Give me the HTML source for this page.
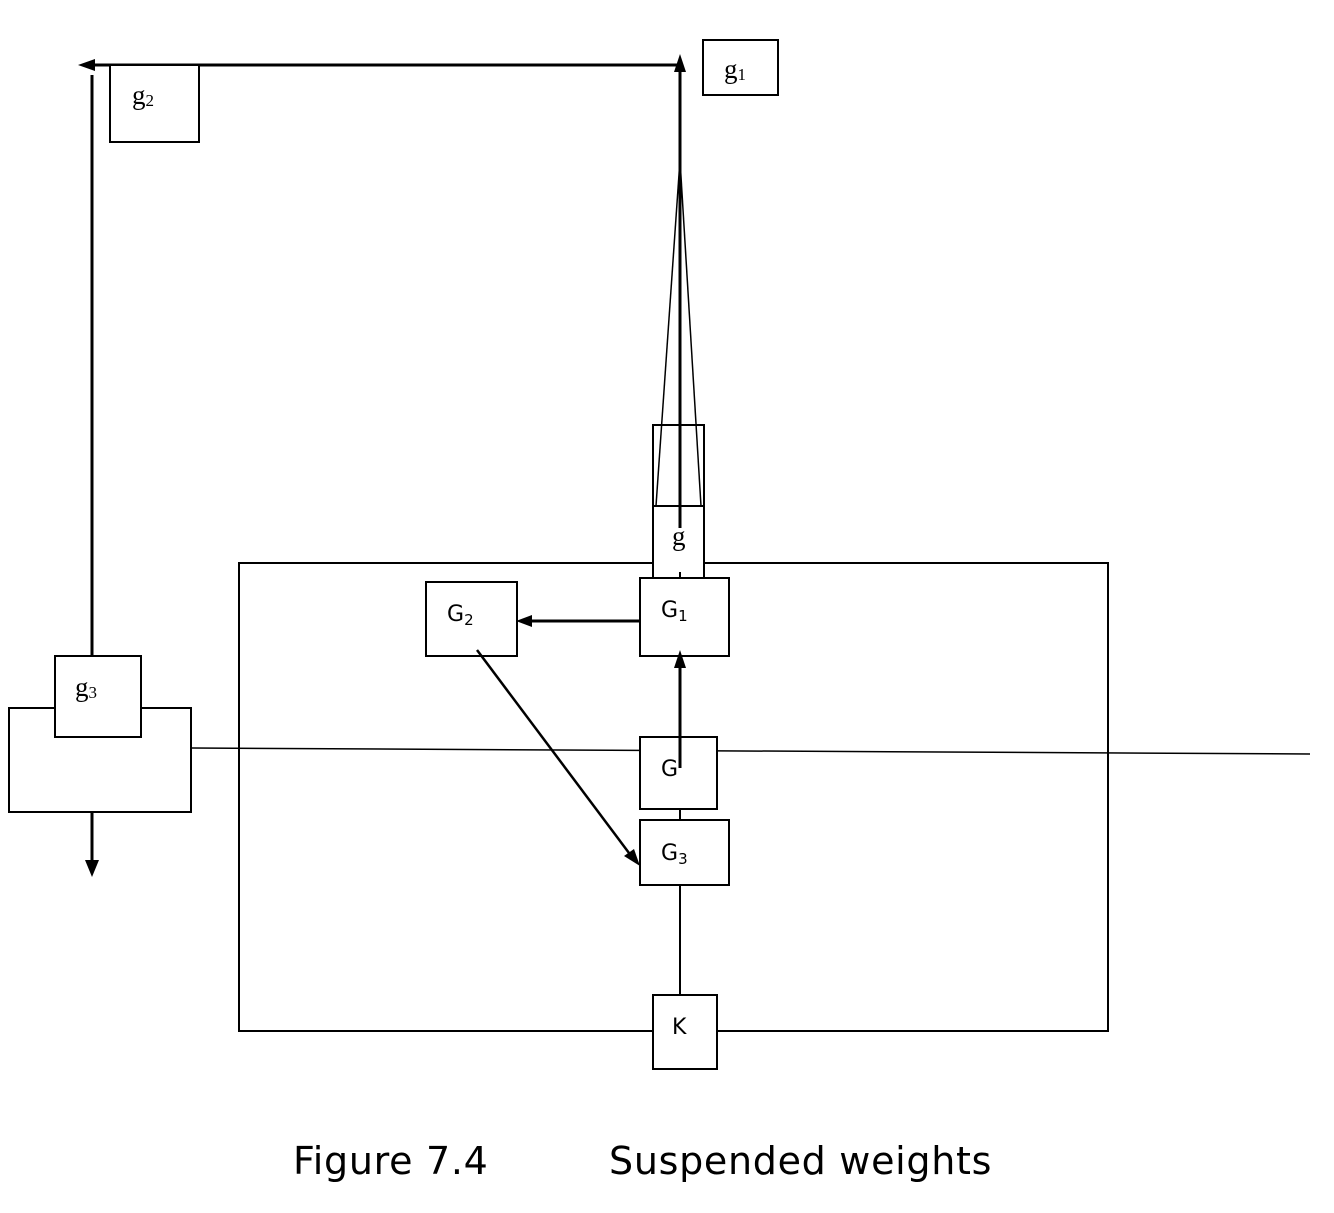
<!DOCTYPE html>
<html><head><style>body{margin:0;background:#fff}svg{display:block}</style></head><body>
<svg width="1334" height="1213" viewBox="0 0 1334 1213" xmlns="http://www.w3.org/2000/svg">
<g fill="none" stroke="#000" stroke-width="2">
<rect x="239" y="563" width="869" height="468"/>
<line x1="192" y1="748" x2="1310" y2="754" stroke-width="1.5"/>
<rect x="653" y="425" width="51" height="153" fill="#fff"/>
<line x1="653" y1="506" x2="704" y2="506"/>
<line x1="680" y1="160" x2="656" y2="506" stroke-width="1.5"/>
<line x1="680" y1="160" x2="701" y2="506" stroke-width="1.5"/>
<line x1="680" y1="528" x2="680" y2="72" stroke-width="3"/>
<line x1="680" y1="572" x2="680" y2="578"/>
<line x1="680" y1="810" x2="680" y2="995"/>
<rect x="640" y="578" width="89" height="78" fill="#fff"/>
<rect x="426" y="582" width="91" height="74" fill="#fff"/>
<rect x="640" y="737" width="77" height="72" fill="#fff"/>
<rect x="640" y="820" width="89" height="65" fill="#fff"/>
<rect x="653" y="995" width="64" height="74" fill="#fff"/>
<line x1="680" y1="768" x2="680" y2="662" stroke-width="3"/>
<line x1="640" y1="621" x2="528" y2="621" stroke-width="3"/>
<line x1="477" y1="650" x2="632" y2="857" stroke-width="2.5"/>
<line x1="680" y1="65" x2="90" y2="65" stroke-width="3"/>
<line x1="92" y1="75" x2="92" y2="656" stroke-width="3"/>
<rect x="110" y="65" width="89" height="77" fill="#fff"/>
<rect x="703" y="40" width="75" height="55" fill="#fff"/>
<rect x="9" y="708" width="182" height="104" fill="#fff"/>
<rect x="55" y="656" width="86" height="81" fill="#fff"/>
<line x1="92" y1="812" x2="92" y2="862" stroke-width="3"/>
</g>
<g fill="#000">
<path d="M680,54 L674,72 L686,72z"/>
<path d="M78,65 L95,59 L95,71z"/>
<path d="M680,650 L674,668 L686,668z"/>
<path d="M516,621 L532,615 L532,627z"/>
<path d="M640,866 L624,856 L634,849z"/>
<path d="M92,877 L85,860 L99,860z"/>
</g>
<g font-family="Liberation Serif, serif" font-size="27">
<text x="132" y="104">g<tspan font-size="17" dy="2">2</tspan></text>
<text x="724" y="78">g<tspan font-size="17" dy="2">1</tspan></text>
<text x="75" y="696">g<tspan font-size="17" dy="2">3</tspan></text>
<text x="672" y="545">g</text>
</g>
<g font-family="DejaVu Sans, sans-serif" font-size="22">
<text x="447" y="621">G<tspan font-size="15" dy="4">2</tspan></text>
<text x="661" y="617">G<tspan font-size="15" dy="4">1</tspan></text>
<text x="661" y="776">G</text>
<text x="661" y="860">G<tspan font-size="15" dy="4">3</tspan></text>
<text x="672" y="1034">K</text>
</g>
<g font-family="DejaVu Sans, sans-serif" font-size="38" letter-spacing="0.7">
<text x="293" y="1174">Figure 7.4</text>
<text x="609" y="1174">Suspended weights</text>
</g>
</svg>
</body></html>
